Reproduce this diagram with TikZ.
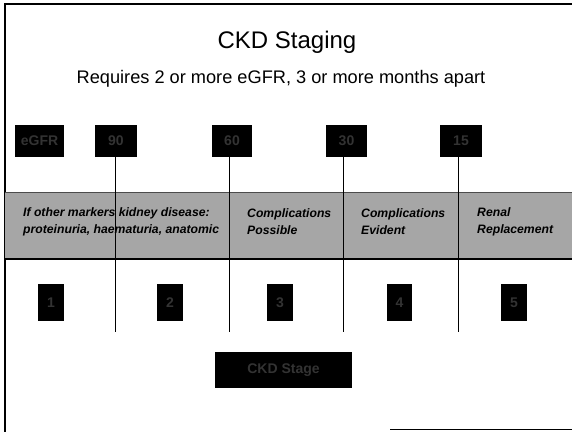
\documentclass[tikz,border=0pt]{standalone}
\usepackage{fontspec}
\setmainfont{Liberation Sans}
\begin{document}
\begin{tikzpicture}[x=1pt,y=-1pt,
  darkbox/.style={fill=black,draw=none,inner sep=0pt,text=black!80,font=\bfseries\fontsize{14}{14}\selectfont},
  bandtext/.style={font=\itshape\bfseries\fontsize{12.2}{17}\selectfont,align=left,anchor=west,inner sep=0pt},
  stageline/.style={line width=1pt,black}]
\useasboundingbox (0,0) rectangle (572,431);
% frame
\draw[line width=2pt] (5,432) -- (5,4) -- (572,4);
\draw[line width=0.8pt] (390,429) -- (572,429);
% titles
\node (title) at (287,42) {\fontsize{24}{24}\selectfont CKD Staging};
\node (sub) at (281,79) {\fontsize{18.2}{18.2}\selectfont Requires 2 or more eGFR, 3 or more months apart};
% band
\fill[black!35] (5,192) rectangle (572,259);
\draw[line width=0.8pt,black!70] (5,192) -- (572,192);
\draw[line width=1.6pt] (5,259) -- (572,259);
\node[bandtext] (c1) at (23,222) {If other markers kidney disease:\\proteinuria, haematuria, anatomic};
\node[bandtext] (c2) at (247,222) {Complications\\Possible};
\node[bandtext] (c3) at (361,222) {Complications\\Evident};
\node[bandtext] (c4) at (477,222) {Renal\\Replacement};
% top boxes
\node[darkbox,minimum width=49pt,minimum height=32pt] (t1) at (39.5,141) {eGFR};
\node[darkbox,minimum width=42pt,minimum height=32pt] (t2) at (116,141) {90};
\node[darkbox,minimum width=40pt,minimum height=32pt] (t3) at (232,141) {60};
\node[darkbox,minimum width=41pt,minimum height=32pt] (t4) at (346.5,141) {30};
\node[darkbox,minimum width=42pt,minimum height=32pt] (t5) at (461,141) {15};
% divider ends
\coordinate (e2) at (115,332);
\coordinate (e3) at (229,332);
\coordinate (e4) at (343,332);
\coordinate (e5) at (458,332);
\draw[stageline] (t2.south -| e2) -- (e2);
\draw[stageline] (t3.south -| e3) -- (e3);
\draw[stageline] (t4.south -| e4) -- (e4);
\draw[stageline] (t5.south -| e5) -- (e5);
% stage numbers
\node[darkbox,minimum width=26pt,minimum height=37pt] (b1) at (51,302.5) {1};
\node[darkbox,minimum width=26pt,minimum height=37pt] (b2) at (170,302.5) {2};
\node[darkbox,minimum width=26pt,minimum height=37pt] (b3) at (280,302.5) {3};
\node[darkbox,minimum width=25pt,minimum height=37pt] (b4) at (399.5,302.5) {4};
\node[darkbox,minimum width=26pt,minimum height=37pt] (b5) at (514,302.5) {5};
% stage label
\node[darkbox,minimum width=137pt,minimum height=36pt] (stage) at (283.5,370) {CKD Stage};
\end{tikzpicture}
\end{document}
